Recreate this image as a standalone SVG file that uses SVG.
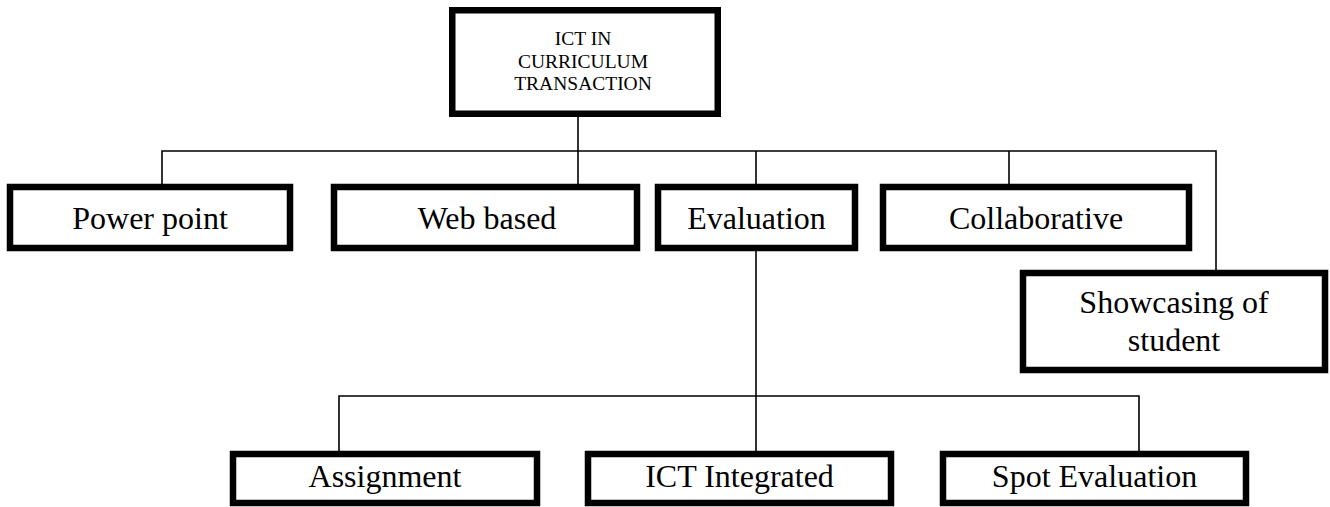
<svg xmlns="http://www.w3.org/2000/svg" width="1330" height="507" viewBox="0 0 1330 507">
  <style>
    .box { fill: #ffffff; stroke: #000000; stroke-width: 6.5; }
    .lbl { font-family: "Liberation Serif", "Times New Roman", serif; font-size: 32px; fill: #000000; text-anchor: middle; }
    .root { font-family: "Liberation Serif", "Times New Roman", serif; font-size: 19.5px; fill: #000000; text-anchor: middle; }
    .wire { fill: none; stroke: #000000; stroke-width: 1.6; }
  </style>
  <rect width="1330" height="507" fill="#ffffff"/>

  <!-- connectors -->
  <g id="connectors">
    <path class="wire" d="M578 117 V184"/>
    <path class="wire" d="M162 184 V151 H1216 V270"/>
    <path class="wire" d="M756 151 V184"/>
    <path class="wire" d="M1009 151 V184"/>
    <path class="wire" d="M756 251 V451"/>
    <path class="wire" d="M339 451 V396 H1139 V451"/>
  </g>

  <!-- root -->
  <g id="ict-curriculum-transaction">
    <rect class="box" x="452.25" y="10.25" width="265.5" height="103.5"/>
    <text class="root" x="583" y="45">ICT IN</text>
    <text class="root" x="583" y="67.5">CURRICULUM</text>
    <text class="root" x="583" y="90">TRANSACTION</text>
  </g>

  <!-- first level -->
  <g id="power-point">
    <rect class="box" x="10" y="187" width="280" height="61"/>
    <text class="lbl" x="150" y="229">Power point</text>
  </g>
  <g id="web-based">
    <rect class="box" x="334" y="187" width="303" height="61"/>
    <text class="lbl" x="487" y="229">Web based</text>
  </g>
  <g id="evaluation">
    <rect class="box" x="658" y="187" width="197" height="61"/>
    <text class="lbl" x="756.5" y="229">Evaluation</text>
  </g>
  <g id="collaborative">
    <rect class="box" x="883" y="187" width="306" height="61"/>
    <text class="lbl" x="1036" y="229">Collaborative</text>
  </g>
  <g id="showcasing-of-student">
    <rect class="box" x="1023" y="273" width="302" height="97"/>
    <text class="lbl" x="1174" y="313">Showcasing of</text>
    <text class="lbl" x="1174" y="351">student</text>
  </g>

  <!-- evaluation children -->
  <g id="assignment">
    <rect class="box" x="233" y="454" width="304" height="49"/>
    <text class="lbl" x="385" y="487">Assignment</text>
  </g>
  <g id="ict-integrated">
    <rect class="box" x="588" y="454" width="303" height="49"/>
    <text class="lbl" x="739.5" y="487">ICT Integrated</text>
  </g>
  <g id="spot-evaluation">
    <rect class="box" x="943" y="454" width="303" height="49"/>
    <text class="lbl" x="1094.5" y="487">Spot Evaluation</text>
  </g>
</svg>
